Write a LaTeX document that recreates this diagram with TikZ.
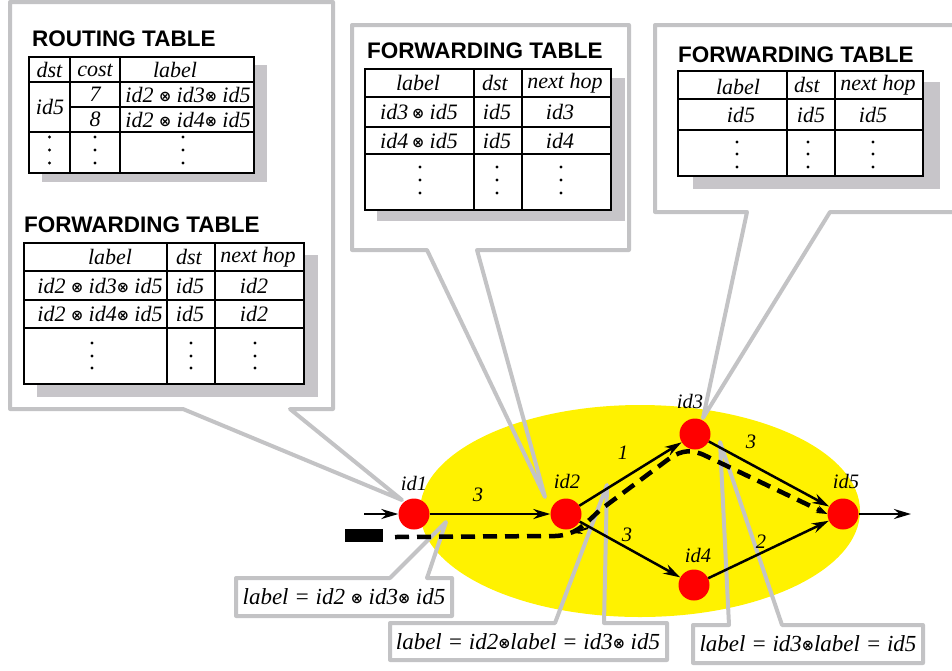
\documentclass[tikz,border=0pt]{standalone}
\usepackage{fontspec}
\setmainfont{Liberation Serif}
\setsansfont{Liberation Sans}
\newfontfamily\symfont{DejaVu Sans}
\usetikzlibrary{arrows.meta}

\definecolor{framegray}{RGB}{195,195,197}
\definecolor{shadowgray}{RGB}{199,197,201}
\newcommand{\ox}{\raisebox{1pt}{\symfont\bfseries\fontsize{14.5}{14.5}\selectfont ⊗}}

\tikzset{
  cell/.style={font=\fontsize{22}{22}\selectfont\itshape, inner sep=0pt},
  boxtext/.style={font=\fontsize{23}{23}\selectfont\itshape, inner sep=0pt},
  tabletitle/.style={font=\fontsize{22.5}{23}\selectfont\sffamily\bfseries, inner sep=0pt, anchor=base west},
  rule/.style={line width=1.5pt},
  tshadow/.style={fill=shadowgray},
  callout/.style={draw=framegray, line width=4pt, line join=round},
  vertex/.style={circle, fill=red, minimum size=31pt, inner sep=0pt},
  vname/.style={font=\fontsize{20.5}{21}\selectfont\itshape, inner sep=0pt, anchor=base},
  weight/.style={font=\fontsize{20.5}{21}\selectfont\itshape, inner sep=0pt},
  link/.style={line width=2.5pt, -{Stealth[length=17pt,width=10pt]}},
  route/.style={line width=4.5pt, dash pattern=on 14pt off 8pt, -{Stealth[length=11pt,width=8pt]}},
}

\begin{document}
\begin{tikzpicture}[x=1pt,y=-1pt]
\useasboundingbox (0,0) rectangle (952,670);
\clip (0,0) rectangle (952,670);

% network area
\fill[yellow] (640,511) ellipse [x radius=220, y radius=106];

% callout frames
\draw[callout] (10,2) -- (333,2) -- (333,409) -- (290,409) -- (402,500) -- (183,409) -- (10,409) -- cycle;
\draw[callout] (352,25) -- (629,25) -- (629,250) -- (477,250) -- (545,497) -- (427,250) -- (352,250) -- cycle;
\draw[callout] (655,25) -- (962,25) -- (962,212) -- (830,212) -- (703,418) -- (747,212) -- (655,212) -- cycle;
\draw[callout] (236,578) -- (390,578) -- (446,522) -- (427,578) -- (452,578) -- (452,616) -- (236,616) -- cycle;
\draw[callout] (390,623) -- (555,623) -- (607,485) -- (604,623) -- (667,623) -- (667,660) -- (390,660) -- cycle;
\draw[callout] (693,625) -- (729,625) -- (720,442) -- (782,625) -- (923,625) -- (923,663) -- (693,663) -- cycle;

% ---------- routing table at id1 ----------
\node[tabletitle] (rt-title) at (32,46) {ROUTING TABLE};
\fill[tshadow] (42,65) rectangle (267,182);
\fill[white] (29,57) rectangle (254,173);
\draw[rule] (29,57) rectangle (254,173);
\draw[rule] (70,57) -- (70,173) (120,57) -- (120,173);
\draw[rule] (29,82) -- (254,82) (70,107) -- (254,107) (29,132) -- (254,132);
\node[cell] (rt-dst) at (49.5,70) {dst};
\node[cell] (rt-cost) at (95,70) {cost};
\node[cell] (rt-label) at (175,70) {label};
\node[cell] (rt-id5) at (50,107) {id5};
\node[cell] (rt-c7) at (95,94.5) {7};
\node[cell] (rt-c8) at (95,119.5) {8};
\node[cell] (rt-p1) at (188,94.5) {id2 \ox{} id3\ox{} id5};
\node[cell] (rt-p2) at (188,119.5) {id2 \ox{} id4\ox{} id5};
\foreach \x in {49.5,95,183} \foreach \y in {137,150,163} \fill (\x,\y) circle (1.6pt);

% ---------- forwarding table at id1 ----------
\node[tabletitle] (ft1-title) at (24,232) {FORWARDING TABLE};
\fill[tshadow] (37,255) rectangle (318,397);
\fill[white] (24,243) rectangle (304,384);
\draw[rule] (24,243) rectangle (304,384);
\draw[rule] (167,243) -- (167,384) (215,243) -- (215,384);
\draw[rule] (24,271) -- (304,271) (24,300) -- (304,300) (24,328) -- (304,328);
\node[cell] (ft1-label) at (110,257) {label};
\node[cell] (ft1-dst) at (189,257) {dst};
\node[cell] (ft1-hop) at (258,257) {next hop};
\node[cell] (ft1-l1) at (100,285.5) {id2 \ox{} id3\ox{} id5};
\node[cell] (ft1-d1) at (190,285.5) {id5};
\node[cell] (ft1-n1) at (254,285.5) {id2};
\node[cell] (ft1-l2) at (100,314) {id2 \ox{} id4\ox{} id5};
\node[cell] (ft1-d2) at (190,314) {id5};
\node[cell] (ft1-n2) at (254,314) {id2};
\foreach \x in {92,191,255} \foreach \y in {343,356,368} \fill (\x,\y) circle (1.6pt);

% ---------- forwarding table at id2 ----------
\node[tabletitle] (ft2-title) at (367,58) {FORWARDING TABLE};
\fill[tshadow] (377,78) rectangle (625,221);
\fill[white] (365,69) rectangle (611,210);
\draw[rule] (365,69) rectangle (611,210);
\draw[rule] (474,69) -- (474,210) (522,69) -- (522,210);
\draw[rule] (365,97) -- (611,97) (365,127) -- (611,127) (365,154) -- (611,154);
\node[cell] (ft2-label) at (418,83) {label};
\node[cell] (ft2-dst) at (495,83) {dst};
\node[cell] (ft2-hop) at (565,83) {next hop};
\node[cell] (ft2-l1) at (419,112) {id3\,\ox{} id5};
\node[cell] (ft2-d1) at (497,112) {id5};
\node[cell] (ft2-n1) at (560,112) {id3};
\node[cell] (ft2-l2) at (419,140.5) {id4\,\ox{} id5};
\node[cell] (ft2-d2) at (497,140.5) {id5};
\node[cell] (ft2-n2) at (560,140.5) {id4};
\foreach \x in {420,497,561} \foreach \y in {167,180,193} \fill (\x,\y) circle (1.6pt);

% ---------- forwarding table at id3 ----------
\node[tabletitle] (ft3-title) at (678,62) {FORWARDING TABLE};
\fill[tshadow] (693,82) rectangle (940,189);
\fill[white] (678,71) rectangle (923,176);
\draw[rule] (678,71) rectangle (923,176);
\draw[rule] (787,71) -- (787,176) (835,71) -- (835,176);
\draw[rule] (678,99) -- (923,99) (678,130) -- (923,130);
\node[cell] (ft3-label) at (738,87) {label};
\node[cell] (ft3-dst) at (807,85) {dst};
\node[cell] (ft3-hop) at (878,85) {next hop};
\node[cell] (ft3-l1) at (741,114.5) {id5};
\node[cell] (ft3-d1) at (811,114.5) {id5};
\node[cell] (ft3-n1) at (873,114.5) {id5};
\foreach \x in {737,808,873} \foreach \y in {142,154,167} \fill (\x,\y) circle (1.6pt);

% ---------- label boxes ----------
\node[boxtext] (box-a) at (344,597) {label = id2 \ox{} id3\ox{} id5};
\node[boxtext] (box-b) at (528,642) {label = id2\ox{}label = id3\ox{} id5};
\node[boxtext] (box-c) at (808,644) {label = id3\ox{}label = id5};

% ---------- network ----------
\node[vertex] (id1) at (414,514) {};
\node[vertex] (id2) at (566,514) {};
\node[vertex] (id3) at (695,434) {};
\node[vertex] (id4) at (694,585) {};
\node[vertex] (id5) at (843,514) {};

\node[vname] (n1) at (414,490) {id1};
\node[vname] (n2) at (567,488) {id2};
\node[vname] (n3) at (690,408) {id3};
\node[vname] (n4) at (698,562) {id4};
\node[vname] (n5) at (846,488) {id5};

\coordinate (in) at (364,514);
\coordinate (out) at (911,514);
\draw[link] (in) -- (id1);
\draw[link] (id1) -- (id2);
\draw[link] (id2) -- (id3);
\draw[link] (id2) -- (id4);
\draw[link] (id3) -- (id5);
\draw[link] (id4) -- (id5);
\draw[link] (id5) -- (out);

\node[weight] (w12) at (478,495) {3};
\node[weight] (w23) at (623,453) {1};
\node[weight] (w24) at (627,535) {3};
\node[weight] (w35) at (751,442) {3};
\node[weight] (w45) at (761,542) {2};

% label-switched route
\fill (345,529) rectangle (383,542);
\coordinate (rstart) at (395,537);
\draw[route] (rstart) -- (555,536) .. controls (575,535) and (582,527) .. (600,510)
  -- (670,458) .. controls (682,450) and (692,449) .. (706,456) -- (id5.west);
\coordinate (bendtail) at (588,528);
\coordinate (bendtip) at (572,533);
\draw[line width=2pt, -{Stealth[length=10pt,width=8pt]}] (bendtail) -- (bendtip);
\end{tikzpicture}
\end{document}
